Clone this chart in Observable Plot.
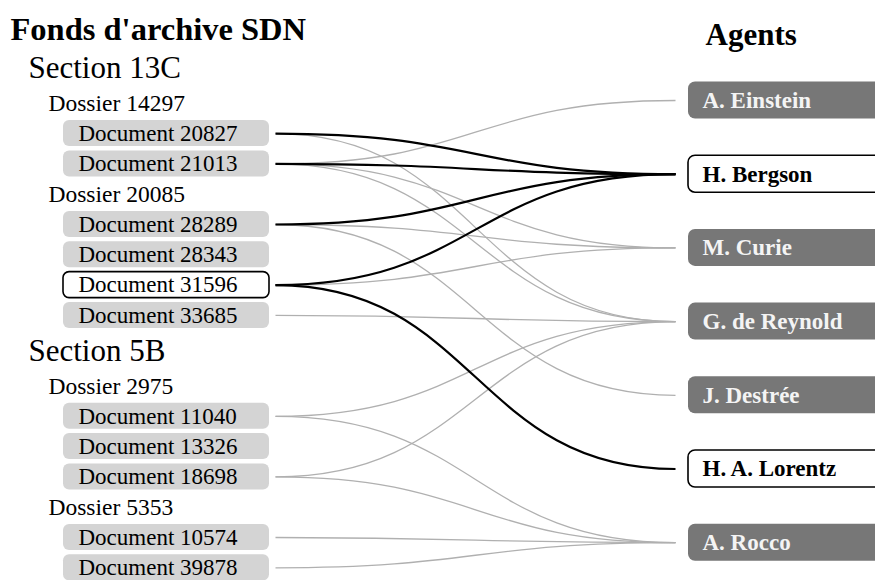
<!DOCTYPE html>
<html>
<head>
<meta charset="utf-8">
<script src="https://cdn.jsdelivr.net/npm/d3@7"></script>
<script src="https://cdn.jsdelivr.net/npm/@observablehq/plot@0.6"></script>
<style>
  html, body { margin: 0; padding: 0; background: #fff; overflow: hidden; }
</style>
</head>
<body>
<div id="chart"></div>
<script>
// ---- data ----
const leftTitle = "Fonds d'archive SDN";
const rightTitle = "Agents";
const sectionNames = ["Section 13C", "Section 5B"];
const dossierNames = ["Dossier 14297", "Dossier 20085", "Dossier 2975", "Dossier 5353"];
const dossierSections = ["Section 13C", "Section 13C", "Section 5B", "Section 5B"];
const documentNames = ["Document 20827", "Document 21013", "Document 28289", "Document 28343",
  "Document 31596", "Document 33685", "Document 11040", "Document 13326", "Document 18698",
  "Document 10574", "Document 39878"];
const documentDossiers = ["Dossier 14297", "Dossier 14297", "Dossier 20085", "Dossier 20085",
  "Dossier 20085", "Dossier 20085", "Dossier 2975", "Dossier 2975", "Dossier 2975",
  "Dossier 5353", "Dossier 5353"];
const agentNames = ["A. Einstein", "H. Bergson", "M. Curie", "G. de Reynold", "J. Destrée",
  "H. A. Lorentz", "A. Rocco"];
const linkSources = [
  "Document 20827", "Document 20827",
  "Document 21013", "Document 21013", "Document 21013", "Document 21013",
  "Document 28289", "Document 28289", "Document 28289",
  "Document 31596", "Document 31596", "Document 31596",
  "Document 33685",
  "Document 11040", "Document 11040",
  "Document 18698", "Document 18698",
  "Document 10574", "Document 39878"];
const linkTargets = [
  "H. Bergson", "G. de Reynold",
  "A. Einstein", "H. Bergson", "M. Curie", "G. de Reynold",
  "H. Bergson", "M. Curie", "J. Destrée",
  "H. Bergson", "M. Curie", "H. A. Lorentz",
  "G. de Reynold",
  "G. de Reynold", "A. Rocco",
  "G. de Reynold", "A. Rocco",
  "A. Rocco", "A. Rocco"];
const selectedDocument = "Document 31596";
const selectedAgents = ["H. Bergson", "H. A. Lorentz"];

// ---- layout (tree-like) ----
const W = 875, H = 580;
const FONT = "Liberation Serif, Times New Roman, serif";
const rows = [];
for (const s of sectionNames) {
  rows.push({kind: "section", name: s});
  dossierNames.forEach((d, i) => {
    if (dossierSections[i] !== s) return;
    rows.push({kind: "dossier", name: d});
    documentNames.forEach((doc, j) => {
      if (documentDossiers[j] === d) rows.push({kind: "document", name: doc});
    });
  });
}
let yy = 67.5;
rows.forEach((r, i) => {
  if (i > 0) {
    const prev = rows[i - 1];
    yy += 30.3 + ((r.kind === "section" || prev.kind === "section") ? 5 : 0);
  }
  r.y = yy;
  r.indent = r.kind === "section" ? 28 : r.kind === "dossier" ? 48 : 78;
});
const docRows = rows.filter(r => r.kind === "document");
const docY = new Map(docRows.map(r => [r.name, r.y]));
const agentRows = agentNames.map((a, i) => ({name: a, y: 100 + i * 73.7, selected: selectedAgents.includes(a)}));
const agentY = new Map(agentRows.map(r => [r.name, r.y]));
const links = linkSources.map((s, i) => ({
  source: s, target: linkTargets[i],
  y1: docY.get(s), y2: agentY.get(linkTargets[i]),
  selected: selectedAgents.includes(linkTargets[i])
}));
const docLeft = 63, docRight = 269, linkLeft = 275, linkRight = 675, agentLeft = 688;
const docBoxH = 26, agentBoxH = 37;

const plot = Plot.plot({
  width: W, height: H,
  margin: 0,
  x: {domain: [0, W], range: [0, W], axis: null},
  y: {domain: [0, H], range: [0, H], axis: null},
  style: {fontFamily: FONT, background: "#fff", overflow: "hidden"},
  marks: [
    // links
    Plot.link(links.filter(d => !d.selected), {
      x1: () => linkLeft, x2: () => linkRight, y1: "y1", y2: "y2",
      curve: "bump-x", stroke: "#b0b0b0", strokeWidth: 1.3
    }),
    Plot.link(links.filter(d => d.selected), {
      x1: () => linkLeft, x2: () => linkRight, y1: "y1", y2: "y2",
      curve: "bump-x", stroke: "#000", strokeWidth: 2.2
    }),
    // document boxes
    Plot.rect(docRows, {
      x1: () => docLeft, x2: () => docRight,
      y1: d => d.y - docBoxH / 2, y2: d => d.y + docBoxH / 2,
      rx: 6,
      fill: d => d.name === selectedDocument ? "#fff" : "#d4d4d4",
      stroke: d => d.name === selectedDocument ? "#000" : "none",
      strokeWidth: 1.6
    }),
    // agent boxes
    Plot.rect(agentRows, {
      x1: () => agentLeft, x2: () => W + 20,
      y1: d => d.y - agentBoxH / 2, y2: d => d.y + agentBoxH / 2,
      rx: 7,
      fill: d => d.selected ? "#fff" : "#777777",
      stroke: d => d.selected ? "#000" : "none",
      strokeWidth: 1.6
    }),
    // titles
    Plot.text([leftTitle], {x: () => 10, y: () => 29, text: d => d, textAnchor: "start",
      fontSize: 32.5, fontWeight: "bold", fill: "#000"}),
    Plot.text([rightTitle], {x: () => 705, y: () => 35, text: d => d, textAnchor: "start",
      fontSize: 31, fontWeight: "bold", fill: "#000"}),
    // hierarchy labels
    Plot.text(rows.filter(r => r.kind === "section"), {x: "indent", y: "y", text: "name",
      textAnchor: "start", fontSize: 31, fill: "#000"}),
    Plot.text(rows.filter(r => r.kind === "dossier"), {x: "indent", y: "y", text: "name",
      textAnchor: "start", fontSize: 23.5, fill: "#000"}),
    Plot.text(docRows, {x: "indent", y: "y", text: "name",
      textAnchor: "start", fontSize: 23, fill: "#000"}),
    // agent labels
    Plot.text(agentRows, {x: () => 702, y: "y", text: "name", textAnchor: "start",
      fontSize: 23, fontWeight: "bold",
      fill: d => d.selected ? "#000" : "#f4f4f4"})
  ]
});
document.getElementById("chart").appendChild(plot);
</script>
</body>
</html>
